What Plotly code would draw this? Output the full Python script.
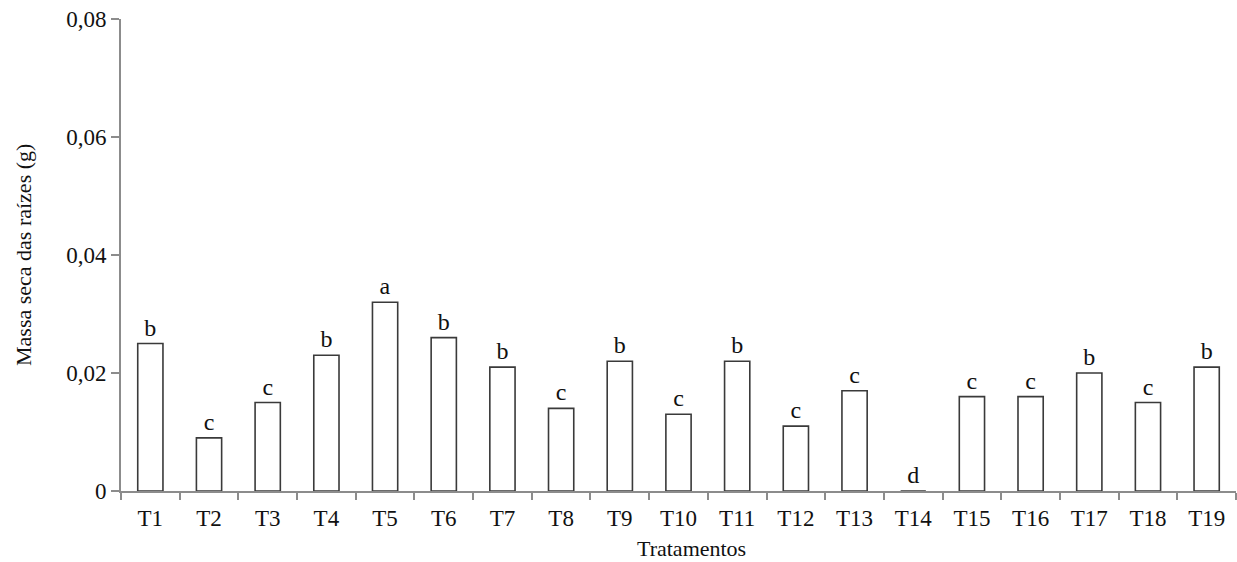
import plotly.graph_objects as go

# Dry root mass per treatment (g) and significance letters
tratamentos = [f"T{i}" for i in range(1, 20)]
massa_seca = [0.025, 0.009, 0.015, 0.023, 0.032, 0.026, 0.021, 0.014, 0.022, 0.013,
              0.022, 0.011, 0.017, 0.0, 0.016, 0.016, 0.020, 0.015, 0.021]
letras = ["b", "c", "c", "b", "a", "b", "b", "c", "b", "c",
          "b", "c", "c", "d", "c", "c", "b", "c", "b"]

y_ticks = [0, 0.02, 0.04, 0.06, 0.08]
y_tick_labels = ["0", "0,02", "0,04", "0,06", "0,08"]

FONT = "Liberation Serif"
AXIS_COLOR = "#8c8c8c"

fig = go.Figure(
    go.Bar(
        x=tratamentos,
        y=massa_seca,
        text=letras,
        textposition="outside",
        textfont=dict(family=FONT, size=24, color="#111111"),
        cliponaxis=False,
        width=0.43,
        marker=dict(color="white", line=dict(color="#3a3a3a", width=1.6)),
    )
)

fig.update_layout(
    width=1237,
    height=562,
    margin=dict(l=121, r=1, t=19, b=71),
    paper_bgcolor="white",
    plot_bgcolor="white",
    showlegend=False,
    font=dict(family=FONT, color="#111111"),
    xaxis=dict(
        type="category",
        showline=True,
        linecolor=AXIS_COLOR,
        linewidth=2,
        ticks="outside",
        tickson="boundaries",
        ticklen=7,
        tickwidth=2,
        tickcolor=AXIS_COLOR,
        showgrid=False,
        tickfont=dict(family=FONT, size=23, color="#111111"),
        ticklabelstandoff=5,
        automargin=False,
    ),
    yaxis=dict(
        range=[0, 0.08],
        tickvals=y_ticks,
        ticktext=y_tick_labels,
        showline=True,
        linecolor=AXIS_COLOR,
        linewidth=2,
        ticks="outside",
        ticklen=8,
        tickwidth=2,
        tickcolor=AXIS_COLOR,
        showgrid=False,
        zeroline=False,
        tickfont=dict(family=FONT, size=23, color="#111111"),
        automargin=False,
    ),
    annotations=[
        dict(
            text="Massa seca das raízes (g)",
            xref="paper", yref="paper",
            x=(23 - 121) / 1115, y=0.5,
            xanchor="center", yanchor="middle",
            textangle=-90,
            showarrow=False,
            font=dict(family=FONT, size=22, color="#111111"),
        ),
        dict(
            text="Tratamentos",
            xref="paper", yref="paper",
            x=(691 - 121) / 1115, y=(491 - 548) / 472,
            xanchor="center", yanchor="middle",
            showarrow=False,
            font=dict(family=FONT, size=22, color="#111111"),
        ),
    ],
)

fig.write_html("out.html")
